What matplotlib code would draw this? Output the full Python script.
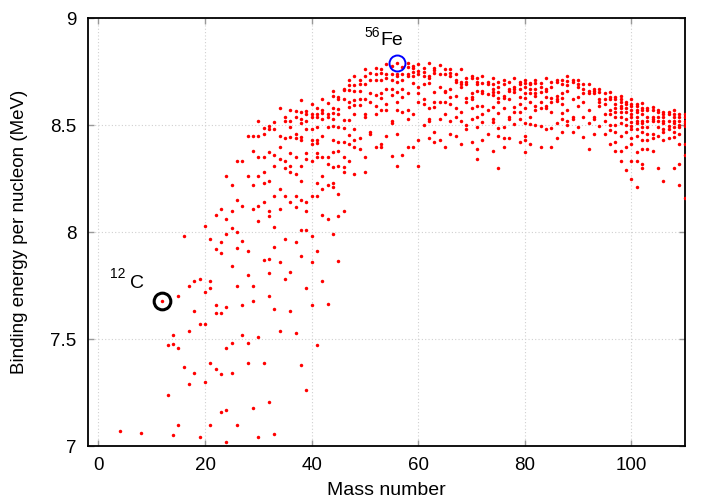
import numpy as np
import matplotlib
matplotlib.use("Agg")
import matplotlib.pyplot as plt

# binding energy per nucleon (MeV), grouped by mass number
light_mass = [4, 8, 12, 13, 14, 15, 16, 17, 18, 19, 20]
light_be = [
    [7.07], [7.06], [7.68], [7.47, 7.24], [7.52, 7.475, 7.05],
    [7.70, 7.46, 7.10], [7.98, 7.37], [7.75, 7.54, 7.29],
    [7.77, 7.63, 7.34], [7.78, 7.57, 7.04], [8.03, 7.72, 7.57, 7.30],
]

# A = 21 .. 40
be_21_40 = [
    [7.97, 7.77, 7.74, 7.39, 7.10],
    [8.08, 7.92, 7.66, 7.62, 7.36],
    [8.11, 7.955, 7.90, 7.62, 7.335, 7.16],
    [8.26, 8.06, 7.99, 7.65, 7.46, 7.17, 7.02],
    [8.22, 8.10, 8.02, 7.84, 7.48, 7.34],
    [8.33, 8.15, 8.00, 7.925, 7.75, 7.10],
    [8.33, 8.12, 7.96, 7.66, 7.52],
    [8.45, 8.26, 7.91, 7.80, 7.48, 7.39],
    [8.45, 8.38, 8.22, 8.11, 7.75, 7.68, 7.18],
    [8.52, 8.45, 8.35, 8.26, 8.12, 8.05, 7.51, 7.04],
    [8.485, 8.46, 8.35, 8.28, 8.23, 8.14, 7.87, 7.39],
    [8.495, 8.48, 8.375, 8.24, 8.10, 8.075, 7.875, 7.81, 7.70, 7.206],
    [8.515, 8.48, 8.36, 8.31, 8.17, 8.025, 7.93, 7.64, 7.056],
    [8.58, 8.45, 8.40, 8.34, 8.20, 8.11, 7.86, 7.536],
    [8.54, 8.52, 8.44, 8.33, 8.30, 8.17, 7.97, 7.78],
    [8.57, 8.52, 8.49, 8.445, 8.37, 8.31, 8.28, 8.14, 7.815, 7.63],
    [8.567, 8.54, 8.46, 8.44, 8.35, 8.27, 8.17, 8.115, 7.955, 7.53],
    [8.617, 8.56, 8.53, 8.51, 8.445, 8.43, 8.31, 8.24, 8.15, 8.01, 7.89, 7.38],
    [8.567, 8.55, 8.52, 8.48, 8.37, 8.34, 8.14, 8.10, 8.01, 7.74, 7.26],
    [8.60, 8.55, 8.54, 8.484, 8.43, 8.414, 8.33, 8.17, 7.98, 7.86, 7.66],
]

# A = 41 .. 60
be_41_60 = [
    [8.58, 8.55, 8.54, 8.49, 8.43, 8.415, 8.37, 8.35, 8.23, 8.17, 7.91, 7.472],
    [8.62, 8.57, 8.555, 8.53, 8.45, 8.35, 8.26, 8.20, 8.08, 7.77],
    [8.605, 8.55, 8.536, 8.49, 8.35, 8.32, 8.22, 8.06, 7.664],
    [8.66, 8.635, 8.58, 8.555, 8.53, 8.495, 8.43, 8.375, 8.305, 8.23, 8.21, 7.99],
    [8.63, 8.62, 8.573, 8.55, 8.49, 8.42, 8.38, 8.31, 8.18, 8.075, 7.865],
    [8.67, 8.664, 8.62, 8.523, 8.485, 8.42, 8.35, 8.305, 8.28, 8.10],
    [8.71, 8.687, 8.664, 8.609, 8.583, 8.523, 8.453, 8.41, 8.33],
    [8.73, 8.687, 8.66, 8.617, 8.594, 8.55, 8.48, 8.43, 8.40, 8.27],
    [8.71, 8.69, 8.66, 8.62, 8.595, 8.44, 8.39],
    [8.76, 8.73, 8.69, 8.62, 8.55, 8.536, 8.35, 8.28],
    [8.745, 8.71, 8.65, 8.61, 8.47, 8.46],
    [8.765, 8.74, 8.71, 8.64, 8.59, 8.55, 8.40],
    [8.76, 8.745, 8.71, 8.65, 8.625, 8.57, 8.41, 8.40],
    [8.785, 8.74, 8.72, 8.67, 8.60, 8.57, 8.45],
    [8.776, 8.74, 8.71, 8.67, 8.64, 8.52, 8.51, 8.355],
    [8.79, 8.74, 8.73, 8.70, 8.655, 8.61, 8.57, 8.46, 8.31],
    [8.77, 8.74, 8.71, 8.67, 8.63, 8.56, 8.36],
    [8.79, 8.77, 8.74, 8.73, 8.65, 8.57, 8.53, 8.40],
    [8.776, 8.765, 8.75, 8.73, 8.695, 8.55, 8.40],
    [8.785, 8.755, 8.74, 8.68, 8.65, 8.61, 8.43, 8.31],
]

# A = 61 .. 80
be_61_80 = [
    [8.765, 8.75, 8.73, 8.69, 8.62, 8.60, 8.50],
    [8.79, 8.73, 8.72, 8.695, 8.58, 8.53, 8.52, 8.44],
    [8.765, 8.757, 8.745, 8.655, 8.61, 8.585, 8.47, 8.42],
    [8.78, 8.74, 8.68, 8.61, 8.53, 8.43],
    [8.76, 8.74, 8.66, 8.655, 8.61, 8.55, 8.40],
    [8.76, 8.745, 8.73, 8.67, 8.63, 8.60, 8.52, 8.46],
    [8.74, 8.71, 8.70, 8.635, 8.58, 8.54, 8.45],
    [8.76, 8.70, 8.69, 8.68, 8.56, 8.52, 8.41],
    [8.72, 8.70, 8.69, 8.625, 8.61, 8.50, 8.48],
    [8.73, 8.72, 8.65, 8.63, 8.62, 8.58, 8.53, 8.42],
    [8.72, 8.70, 8.69, 8.66, 8.59, 8.54, 8.49, 8.39, 8.34],
    [8.73, 8.695, 8.66, 8.65, 8.59, 8.55, 8.515, 8.43],
    [8.70, 8.69, 8.645, 8.57, 8.46],
    [8.72, 8.69, 8.67, 8.655, 8.64, 8.585, 8.53, 8.515, 8.38],
    [8.70, 8.68, 8.655, 8.625, 8.61, 8.555, 8.485, 8.45, 8.30],
    [8.71, 8.69, 8.635, 8.625, 8.58, 8.49, 8.44, 8.40],
    [8.70, 8.67, 8.66, 8.62, 8.54, 8.53, 8.44],
    [8.72, 8.68, 8.67, 8.655, 8.585, 8.56, 8.505],
    [8.70, 8.69, 8.67, 8.63, 8.60, 8.56, 8.53, 8.42],
    [8.71, 8.695, 8.676, 8.65, 8.625, 8.58, 8.51, 8.45, 8.43, 8.375],
]

# A = 81 .. 95
be_81_95 = [
    [8.695, 8.69, 8.67, 8.65, 8.61, 8.54, 8.505, 8.41],
    [8.71, 8.695, 8.67, 8.65, 8.635, 8.59, 8.57, 8.50],
    [8.695, 8.676, 8.655, 8.61, 8.58, 8.495, 8.40],
    [8.72, 8.67, 8.66, 8.63, 8.59, 8.58, 8.48],
    [8.70, 8.68, 8.625, 8.61, 8.56, 8.485, 8.40],
    [8.71, 8.70, 8.635, 8.62, 8.614, 8.51, 8.44],
    [8.71, 8.69, 8.65, 8.625, 8.60, 8.555, 8.53, 8.47],
    [8.73, 8.705, 8.686, 8.66, 8.57, 8.52, 8.50],
    [8.71, 8.70, 8.62, 8.54, 8.53, 8.47],
    [8.71, 8.69, 8.68, 8.63, 8.59, 8.49],
    [8.69, 8.67, 8.65, 8.61, 8.54, 8.445],
    [8.69, 8.66, 8.65, 8.57, 8.51, 8.39],
    [8.67, 8.66, 8.65, 8.54, 8.53, 8.46],
    [8.67, 8.655, 8.62, 8.61, 8.59, 8.495],
    [8.65, 8.62, 8.60, 8.55, 8.52, 8.46],
]

# A = 96 .. 110
be_96_110 = [
    [8.655, 8.63, 8.62, 8.57, 8.55, 8.50, 8.475, 8.41],
    [8.63, 8.62, 8.60, 8.58, 8.56, 8.54, 8.50, 8.47, 8.42, 8.38],
    [8.635, 8.62, 8.61, 8.59, 8.58, 8.56, 8.54, 8.51, 8.45, 8.38, 8.33],
    [8.61, 8.60, 8.58, 8.56, 8.53, 8.50, 8.47, 8.40, 8.29],
    [8.62, 8.60, 8.59, 8.57, 8.55, 8.54, 8.515, 8.495, 8.48, 8.44, 8.41, 8.33, 8.25],
    [8.60, 8.59, 8.57, 8.56, 8.54, 8.52, 8.51, 8.48, 8.45, 8.375, 8.33, 8.21],
    [8.605, 8.58, 8.57, 8.55, 8.52, 8.51, 8.49, 8.47, 8.43, 8.39, 8.32, 8.30],
    [8.58, 8.57, 8.54, 8.52, 8.49, 8.46, 8.43, 8.39],
    [8.585, 8.57, 8.54, 8.53, 8.52, 8.46, 8.44, 8.38],
    [8.57, 8.56, 8.54, 8.52, 8.49, 8.45, 8.30],
    [8.56, 8.55, 8.54, 8.52, 8.51, 8.48, 8.47, 8.43, 8.24],
    [8.56, 8.55, 8.52, 8.495, 8.48, 8.44],
    [8.57, 8.55, 8.54, 8.52, 8.51, 8.49, 8.47, 8.445, 8.30],
    [8.55, 8.54, 8.52, 8.50, 8.49, 8.46, 8.41, 8.32, 8.22],
    [8.55, 8.54, 8.52, 8.51, 8.495, 8.41, 8.36, 8.16],
]

# highlighted nuclei
c12_mass, c12_be = 12, 7.68
fe56_mass, fe56_be = 56, 8.79

x_ticks = [0, 20, 40, 60, 80, 100]
y_ticks = [7, 7.5, 8, 8.5, 9]


def flatten(first_mass, groups):
    xs, ys = [], []
    for i, vals in enumerate(groups):
        xs += [first_mass + i] * len(vals)
        ys += vals
    return xs, ys


mass, be = [], []
for m, vals in zip(light_mass, light_be):
    mass += [m] * len(vals)
    be += vals
for start, grp in [(21, be_21_40), (41, be_41_60), (61, be_61_80),
                   (81, be_81_95), (96, be_96_110)]:
    xs, ys = flatten(start, grp)
    mass += xs
    be += ys

plt.rcParams['font.family'] = ['Liberation Sans', 'DejaVu Sans']

fig = plt.figure(figsize=(7.2, 5.04), dpi=100)
ax = fig.add_axes([0.122, 0.115, 0.829, 0.849])

ax.plot(mass, be, 'o', color='#ff0000', markersize=2.5, markeredgewidth=0, zorder=3)

# rings around carbon-12 and iron-56
ax.plot([c12_mass], [c12_be], 'o', mfc='none', mec='black', mew=2.2,
        markersize=12, zorder=4)
ax.plot([fe56_mass], [fe56_be], 'o', mfc='none', mec='#0000ff', mew=1.4,
        markersize=11.5, zorder=4)

ax.annotate('12', (c12_mass, c12_be), xytext=(-32, 19), textcoords='offset points',
            ha='center', va='center', fontsize=10)
ax.annotate('C', (c12_mass, c12_be), xytext=(-18.6, 12), textcoords='offset points',
            ha='center', va='center', fontsize=14)
ax.annotate('56', (fe56_mass, fe56_be), xytext=(-18, 22), textcoords='offset points',
            ha='center', va='center', fontsize=10)
ax.annotate('Fe', (fe56_mass, fe56_be), xytext=(-4, 16), textcoords='offset points',
            ha='center', va='center', fontsize=14)

ax.set_xlim(-2, 110)
ax.set_ylim(7, 9)
ax.set_xticks(x_ticks)
ax.set_yticks(y_ticks)
ax.set_yticklabels(['7', '7.5', '8', '8.5', '9'])
ax.tick_params(direction='in', length=4, width=1, color='#999999',
               labelsize=13.5, pad=8, top=True, right=True)
ax.grid(True, linestyle=(0, (1, 2)), color='#d0d0d0', linewidth=0.8)
for sp in ax.spines.values():
    sp.set_linewidth(1.3)
    sp.set_color('black')

ax.set_xlabel('Mass number', fontsize=14, labelpad=6)
ax.set_ylabel('Binding energy per nucleon (MeV)', fontsize=13.5, labelpad=16)

fig.savefig('out.png', dpi=100)
